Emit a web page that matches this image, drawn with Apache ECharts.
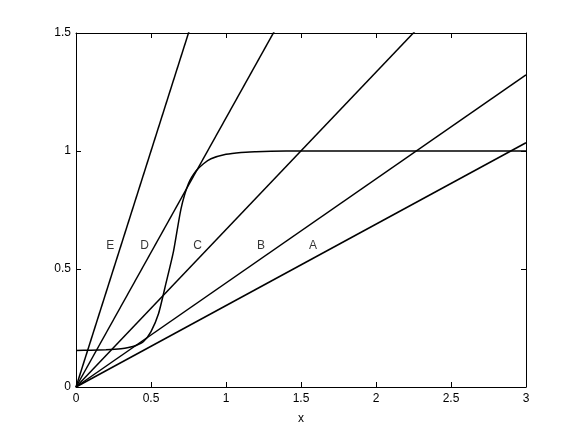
<!DOCTYPE html>
<html>
<head>
<meta charset="utf-8">
<script src="https://cdn.jsdelivr.net/npm/echarts@6/dist/echarts.min.js"></script>
<style>
  html, body { margin: 0; padding: 0; background: #fff; }
  #main { width: 581px; height: 437px; }
</style>
</head>
<body>
<div id="main"></div>
<script>
  // straight lines through the origin, y = slope * x
  var lineNames = ['A', 'B', 'C', 'D', 'E'];
  var lineSlopes = [0.345, 0.441, 0.667, 1.14, 2.0];

  // S-shaped curve
  var curveX = [0, 0.1, 0.2, 0.3, 0.35, 0.4, 0.45, 0.5, 0.55, 0.6, 0.65, 0.7, 0.75, 0.8, 0.85, 0.9, 1.0, 1.1, 1.2, 1.3, 1.5, 2, 3];
  var curveY = [0.155, 0.156, 0.158, 0.162, 0.167, 0.176, 0.193, 0.235, 0.31, 0.44, 0.575, 0.755, 0.862, 0.915, 0.946, 0.967, 0.986, 0.994, 0.997, 0.999, 1.0, 1.0, 1.0];

  // letter labels
  var labelX = [1.58, 1.233, 0.81, 0.457, 0.229];
  var labelY = [0.6, 0.6, 0.6, 0.6, 0.6];

  var font = 'Liberation Sans, Arial, sans-serif';
  var chart = echarts.init(document.getElementById('main'));

  function axisBase(show) {
    return {
      type: 'value',
      axisLine: { show: true, onZero: false, lineStyle: { color: '#000', width: 1 } },
      axisTick: { show: true, inside: true, length: 5, lineStyle: { color: '#000' } },
      axisLabel: { show: show, color: '#000', fontSize: 12, fontFamily: font, margin: 6 },
      splitLine: { show: false }
    };
  }

  var xBottom = Object.assign(axisBase(true), {
    min: 0, max: 3, interval: 0.5, position: 'bottom',
    name: 'x', nameLocation: 'middle', nameGap: 26,
    nameTextStyle: { color: '#000', fontSize: 12, fontFamily: font }
  });
  var xTop = Object.assign(axisBase(false), { min: 0, max: 3, interval: 0.5, position: 'top' });
  var yLeft = Object.assign(axisBase(true), { min: 0, max: 1.5, interval: 0.5, position: 'left' });
  yLeft.axisLabel.margin = 5;
  var yRight = Object.assign(axisBase(false), { min: 0, max: 1.5, interval: 0.5, position: 'right' });

  var series = [];
  lineNames.forEach(function (n, i) {
    series.push({
      name: n,
      type: 'line',
      data: [[0, 0], [3, 3 * lineSlopes[i]]],
      showSymbol: false,
      clip: true,
      lineStyle: { color: '#000', width: 1.5 },
      silent: true
    });
  });

  series.push({
    name: 'curve',
    type: 'line',
    data: curveX.map(function (x, i) { return [x, curveY[i]]; }),
    smooth: 0.2,
    showSymbol: false,
    lineStyle: { color: '#000', width: 1.5 },
    silent: true
  });

  series.push({
    name: 'labels',
    type: 'scatter',
    symbolSize: 0,
    data: lineNames.map(function (n, i) { return { value: [labelX[i], labelY[i]], name: n }; }),
    label: {
      show: true, position: 'inside', formatter: '{b}',
      color: '#000', fontSize: 12, fontFamily: font
    },
    silent: true
  });

  chart.setOption({
    animation: false,
    backgroundColor: '#fff',
    grid: { left: 76, right: 55, top: 33, bottom: 50 },
    xAxis: [xBottom, xTop],
    yAxis: [yLeft, yRight],
    series: series
  });
</script>
</body>
</html>
